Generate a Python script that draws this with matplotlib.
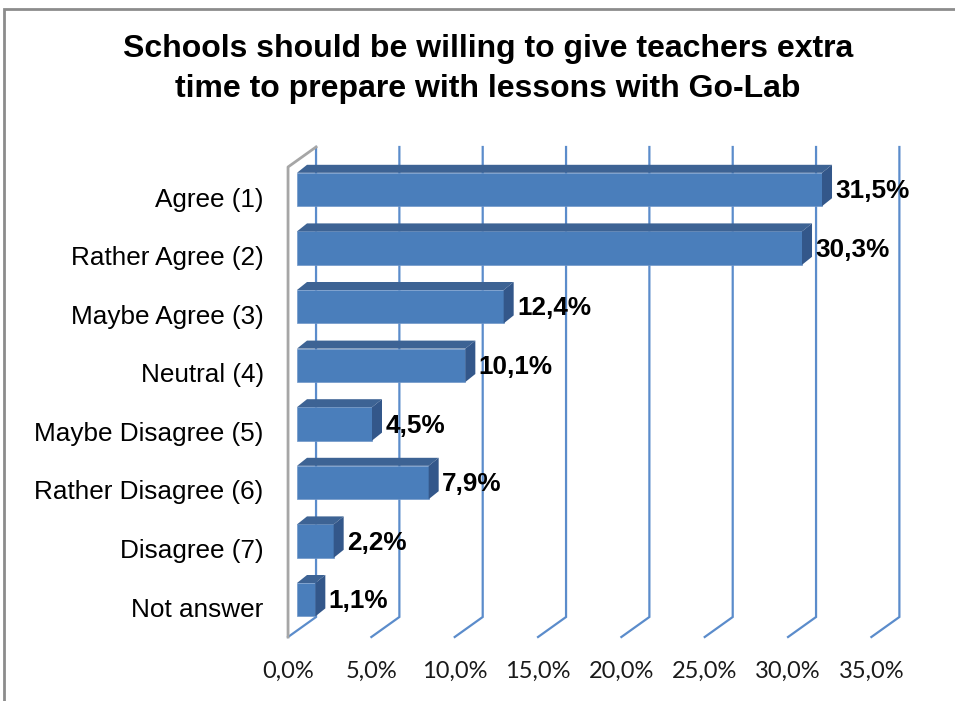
import numpy as np
import matplotlib
matplotlib.use("Agg")
import matplotlib.pyplot as plt
from matplotlib.patches import Polygon, Rectangle
from matplotlib.transforms import ScaledTranslation

title = "Schools should be willing to give teachers extra\ntime to prepare with lessons with Go-Lab"
categories = ["Agree (1)", "Rather Agree (2)", "Maybe Agree (3)", "Neutral (4)",
              "Maybe Disagree (5)", "Rather Disagree (6)", "Disagree (7)", "Not answer"]
values = [31.5, 30.3, 12.4, 10.1, 4.5, 7.9, 2.2, 1.1]
xticks = [0, 5, 10, 15, 20, 25, 30, 35]
xticklabels = ["0,0%", "5,0%", "10,0%", "15,0%", "20,0%", "25,0%", "30,0%", "35,0%"]

W, H, DPI = 955, 701, 100
fig = plt.figure(figsize=(W / DPI, H / DPI), dpi=DPI)

# axes = bar front plane
px_per_pct = 16.667
x0_px = 297
y_unit_px = 58.6
y0_px = 189.5
ax_bottom_px = 630.6
ax_top_px = 160.6
left = x0_px / W
width = 35 * px_per_pct / W
bottom = 1 - ax_bottom_px / H
height = (ax_bottom_px - ax_top_px) / H
ax = fig.add_axes([left, bottom, width, height])
ylo = (ax_bottom_px - y0_px) / y_unit_px
yhi = (ax_top_px - y0_px) / y_unit_px
ax.set_xlim(0, 35)
ax.set_ylim(ylo, yhi)
ax.patch.set_visible(False)
for s in ax.spines.values():
    s.set_visible(False)

# chart depth vector (data units)
ddx = 28 / px_per_pct
ddy = -20 / y_unit_px
f_front = -0.32
f_back = 0.68
fx, fy = f_front * ddx, f_front * ddy
bx, by = f_back * ddx, f_back * ddy

grid_c = "#5B8CCB"
for t in xticks:
    ax.plot([t + bx, t + bx, t + fx], [yhi + by, ylo + by, ylo + fy],
            color=grid_c, lw=1.6, clip_on=False, zorder=1, solid_joinstyle="miter")
# left wall
wall_c = "#A6A6A6"
ax.plot([0 + bx, 0 + fx, 0 + fx], [yhi + by, yhi + fy, ylo + fy],
        color=wall_c, lw=2.0, clip_on=False, zorder=1.5)

# bars
ypos = np.arange(len(categories))
bh = 0.57
bdx = 10 / px_per_pct
bdy = -8 / y_unit_px
front_c = "#4A7EBB"
top_c = "#3D6394"
side_c = "#33578A"
ax.barh(ypos, values, height=bh, left=0, color=front_c, edgecolor="#6F96C8",
        linewidth=0.5, zorder=3)
for y, v in zip(ypos, values):
    yt = y - bh / 2
    yb = y + bh / 2
    top = Polygon([(0, yt), (v, yt), (v + bdx, yt + bdy), (bdx, yt + bdy)],
                  closed=True, facecolor=top_c, edgecolor="none", zorder=3, clip_on=False)
    side = Polygon([(v, yt), (v + bdx, yt + bdy), (v + bdx, yb + bdy), (v, yb)],
                   closed=True, facecolor=side_c, edgecolor="none", zorder=3, clip_on=False)
    ax.add_patch(top)
    ax.add_patch(side)
    ax.text(v + bdx + 0.2, y + 0.03, f"{v:.1f}".replace(".", ",") + "%",
            ha="left", va="center", fontsize=18.8, fontweight="bold",
            family="Liberation Sans", color="black", zorder=4)

# y tick labels
ax.set_yticks(ypos)
ax.set_yticklabels(categories, fontsize=18.8, family="Liberation Sans")
ax.tick_params(axis="y", length=0, pad=24)
for lab in ax.get_yticklabels():
    lab.set_transform(lab.get_transform() + ScaledTranslation(0, -7.5 / DPI, fig.dpi_scale_trans))

# x tick labels at front floor edge
ax.set_xticks(xticks)
ax.set_xticklabels(xticklabels, fontsize=17, family="Lato", color="#1a1a1a")
ax.tick_params(axis="x", length=0, pad=21.5)
for lab in ax.get_xticklabels():
    lab.set_transform(lab.get_transform() + ScaledTranslation(-9 / DPI, 0, fig.dpi_scale_trans))

# title
fig.text(488 / W, 1 - 69 / H, title, ha="center", va="center", fontsize=23,
         fontweight="bold", family="Liberation Sans", linespacing=1.42)

# chart border
fig.patches.append(Rectangle((4 / W, -0.05), 1.1, 1 - 9 / H + 0.05, transform=fig.transFigure,
                             fill=False, edgecolor="#8C8C8C", lw=2, clip_on=False))

fig.savefig("out.png", dpi=DPI, facecolor="white")
